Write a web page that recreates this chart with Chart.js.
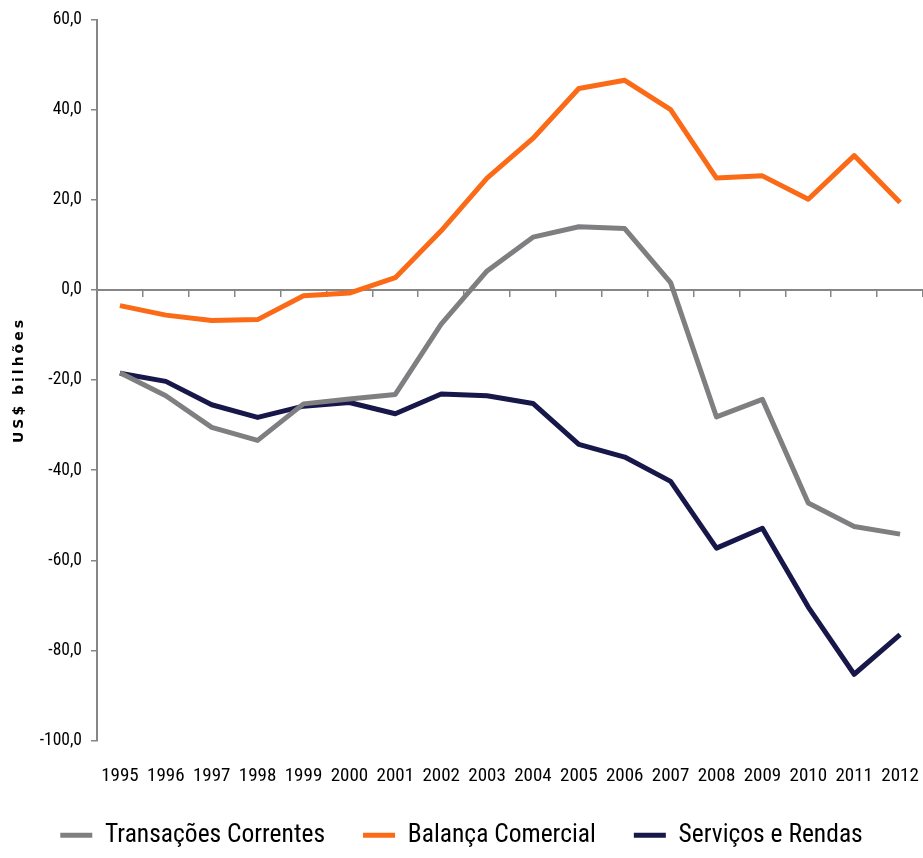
<!DOCTYPE html>
<html lang="pt">
<head>
    <meta charset="UTF-8">
    <title>Balanço de pagamentos</title>
    <script src="https://cdn.jsdelivr.net/npm/chart.js@4.4.1/dist/chart.umd.min.js"></script>
    <style>
        html, body { margin: 0; padding: 0; background: #fff; }
        #wrap { width: 923px; height: 858px; }
    </style>
</head>
<body>
<div id="wrap"><canvas id="grafico"></canvas></div>
<script>
// dados (US$ bilhões)
var anos = ['1995','1996','1997','1998','1999','2000','2001','2002','2003','2004','2005','2006','2007','2008','2009','2010','2011','2012']
var transacoesCorrentes = [-18.4, -23.5, -30.5, -33.4, -25.3, -24.2, -23.2, -7.6, 4.2, 11.7, 14.0, 13.6, 1.6, -28.2, -24.3, -47.3, -52.5, -54.2]
var balancaComercial = [-3.5, -5.6, -6.8, -6.6, -1.3, -0.7, 2.7, 13.1, 24.8, 33.6, 44.7, 46.5, 40.0, 24.8, 25.3, 20.1, 29.8, 19.4]
var servicosRendas = [-18.5, -20.3, -25.5, -28.3, -25.8, -25.0, -27.5, -23.1, -23.5, -25.2, -34.3, -37.1, -42.5, -57.3, -52.9, -70.4, -85.3, -76.5]
var yMin = -100, yMax = 60, yPasso = 20

var fonte = "'Liberation Sans Narrow', 'Arial Narrow', 'Roboto Condensed', sans-serif"
var cinzaEixo = '#868686'

function serie(nome, dados, cor) {
    return {
        label: nome,
        data: dados,
        borderColor: cor,
        backgroundColor: cor,
        borderWidth: 5,
        pointRadius: 0,
        tension: 0,
        borderJoinStyle: 'round',
        xAxisID: 'x'
    }
}

// título do eixo y um pouco espaçado, como no original
var espacarTitulo = {
    id: 'espacarTitulo',
    afterLayout: function (chart) {
        var y = chart.scales.y
        if (y._tituloEspacado) return
        var original = y.drawTitle
        y.drawTitle = function () {
            chart.ctx.save()
            chart.ctx.letterSpacing = '3px'
            original.apply(this, arguments)
            chart.ctx.restore()
        }
        y._tituloEspacado = true
    }
}

var ctx = document.getElementById('grafico').getContext('2d')
var grafico = new Chart(ctx, {
    type: 'line',
    data: {
        labels: anos,
        datasets: [
            serie('Transações Correntes', transacoesCorrentes, '#7f7f81'),
            serie('Balança Comercial', balancaComercial, '#fb6a17'),
            serie('Serviços e Rendas', servicosRendas, '#17174a')
        ]
    },
    plugins: [espacarTitulo],
    options: {
        responsive: true,
        maintainAspectRatio: false,
        animation: false,
        layout: { padding: { top: 18, left: 0, right: 0, bottom: 0 } },
        plugins: {
            tooltip: { enabled: false },
            legend: {
                position: 'bottom',
                labels: {
                    usePointStyle: true,
                    pointStyle: 'line',
                    pointStyleWidth: 32,
                    padding: 38,
                    color: '#000',
                    font: { family: fonte, size: 25.5 }
                }
            }
        },
        scales: {
            // eixo do zero, só linha e marcas
            x: {
                type: 'category',
                position: { y: 0 },
                offset: true,
                border: { display: true, color: cinzaEixo, width: 2 },
                grid: { display: true, drawOnChartArea: false, drawTicks: true, tickLength: 6, color: cinzaEixo, lineWidth: 1.5, offset: true },
                ticks: { display: false }
            },
            // rótulos dos anos embaixo
            x2: {
                type: 'category',
                labels: anos,
                position: 'bottom',
                offset: true,
                border: { display: false },
                grid: { display: false, drawTicks: true, tickLength: 22 },
                ticks: { color: '#000', padding: 2, maxRotation: 0, autoSkip: false, font: { family: fonte, size: 19 } },
                afterFit: function (s) { s.height = 44 }
            },
            y: {
                min: yMin,
                max: yMax,
                border: { display: true, color: cinzaEixo, width: 2 },
                grid: { display: true, drawOnChartArea: false, drawTicks: true, tickLength: 6, color: cinzaEixo, lineWidth: 1.5 },
                ticks: {
                    stepSize: yPasso,
                    padding: 9,
                    color: '#000',
                    font: { family: fonte, size: 17.5 },
                    callback: function (v) { return v.toFixed(1).replace('.', ',') }
                },
                title: {
                    display: true,
                    text: 'US$ bilhões',
                    color: '#000',
                    padding: { top: 11, bottom: 0 },
                    font: { family: "'DejaVu Sans', sans-serif", size: 14, weight: 'bold' }
                },
                afterFit: function (s) { s.width = 97 }
            }
        }
    }
})
</script>
</body>
</html>
